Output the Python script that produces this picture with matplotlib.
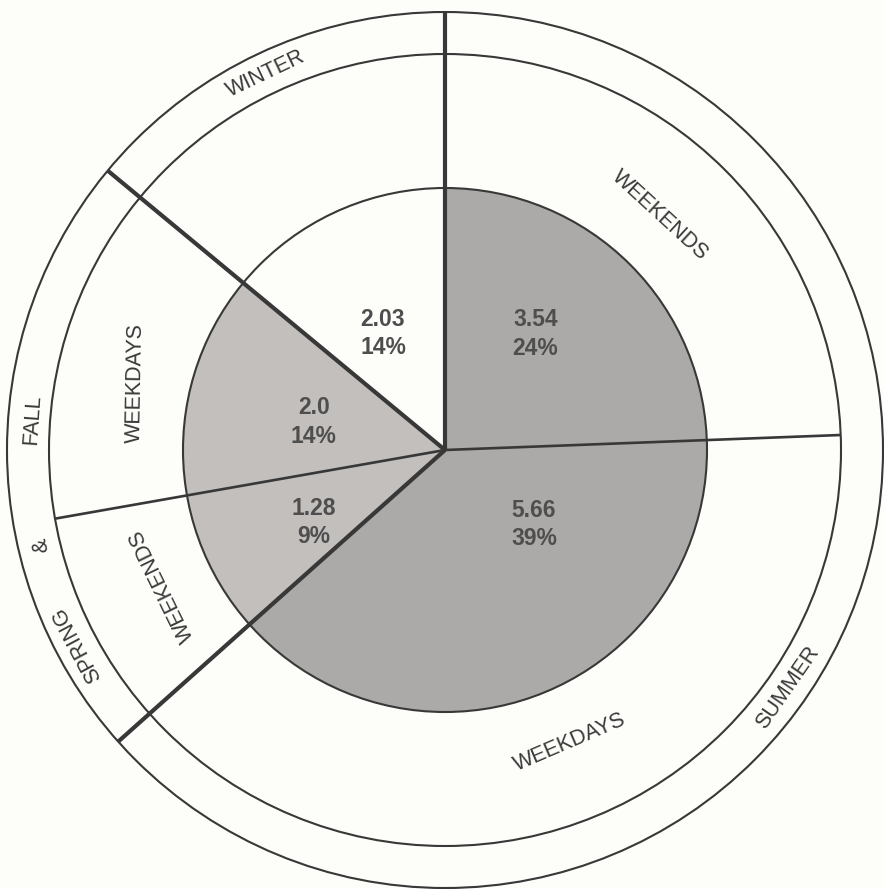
import numpy as np
import matplotlib.pyplot as plt
from matplotlib.patches import Circle

# data
seasons = ['SUMMER', 'FALL & SPRING', 'WINTER']
segment_names = ['WEEKENDS', 'WEEKDAYS', 'WEEKENDS', 'WEEKDAYS', '']
segment_season = [0, 0, 1, 1, 2]
values = [3.54, 5.66, 1.28, 2.0, 2.03]

# style
fills = ['#acaaa8', '#acaaa8', '#c2bfbd', '#c2bfbd', '#fdfdfa']
line_col = '#383838'
bg = '#fdfdfa'
R_PIE, R_MID, R_OUT = 262, 396, 438

plt.rcParams['font.family'] = ['Liberation Sans', 'DejaVu Sans']

fig = plt.figure(figsize=(8.84, 8.89), dpi=100, facecolor=bg)
ax = fig.add_axes([0, 0, 1, 1])
ax.set_facecolor(bg)

season_totals = [sum(v for v, s in zip(values, segment_season) if s == i)
                 for i in range(len(seasons))]

# outer ring (seasons), middle ring (day type), inner pie
ring_out, _ = ax.pie(season_totals, radius=R_OUT, startangle=90, counterclock=False,
                     colors=[bg] * 3, wedgeprops=dict(width=R_OUT - R_MID, linewidth=0))
ring_mid, _ = ax.pie(values, radius=R_MID, startangle=90, counterclock=False,
                     colors=[bg] * 5, wedgeprops=dict(width=R_MID - R_PIE, linewidth=0))
inner, _ = ax.pie(values, radius=R_PIE, startangle=90, counterclock=False,
                  colors=fills, wedgeprops=dict(linewidth=0))

for r in (R_PIE, R_MID, R_OUT):
    ax.add_patch(Circle((0, 0), r, fill=False, lw=1.5, ec=line_col, zorder=3))

# radial boundaries: season edges thick to the outer rim, day-type edges thin
season_edges = sorted({round(w.theta1 % 360, 4) for w in ring_out})
seg_edges = sorted({round(w.theta1 % 360, 4) for w in inner})
for a in seg_edges:
    is_season = any(abs(a - s) < 1e-3 for s in season_edges)
    r = R_OUT if is_season else R_MID
    lw = 3.0 if is_season else 1.9
    t = np.radians(a)
    ax.plot([0, r * np.cos(t)], [0, r * np.sin(t)], color=line_col, lw=lw,
            solid_capstyle='butt', zorder=4)

# value labels in the pie (angle, radius)
inner_label_pos = [(52, 147), (-40, 116), (209, 150), (168, 134), (118, 132)]
total = sum(values)
for v, (ang, rr) in zip(values, inner_label_pos):
    t = np.radians(ang)
    ax.text(rr * np.cos(t), rr * np.sin(t), f'{v}\n{round(100 * v / total)}%',
            ha='center', va='center', fontsize=16.5, fontweight='bold',
            color='#4e4e4e', linespacing=1.3, zorder=5)

# ring labels: text, angle, radius, rotation
ring_labels = [
    (segment_names[0], 47.5, 318, -42.5),
    (segment_names[1], -66.8, 318, 23.2),
    (segment_names[2], 205.5, 314, 116),
    (segment_names[3], 167.8, 317, 89),
    ('WINTER', 115.5, 417, 25.5),
    ('SUMMER', -34.7, 417, 55.3),
    ('FALL', 175.8, 414, 86),
    ('&', 193.2, 415, 103),
    ('SPRING', 207.9, 416, 118),
]
for txt, ang, rr, rot in ring_labels:
    t = np.radians(ang)
    ax.text(rr * np.cos(t), rr * np.sin(t), txt, ha='center', va='center',
            rotation=rot, rotation_mode='anchor', fontsize=15.5, color='#3a3a3a', zorder=5)

ax.set_xlim(-445, 439)
ax.set_ylim(-439, 450)
ax.set_aspect('equal')
ax.axis('off')

fig.savefig('out.png', dpi=100, facecolor=bg)
